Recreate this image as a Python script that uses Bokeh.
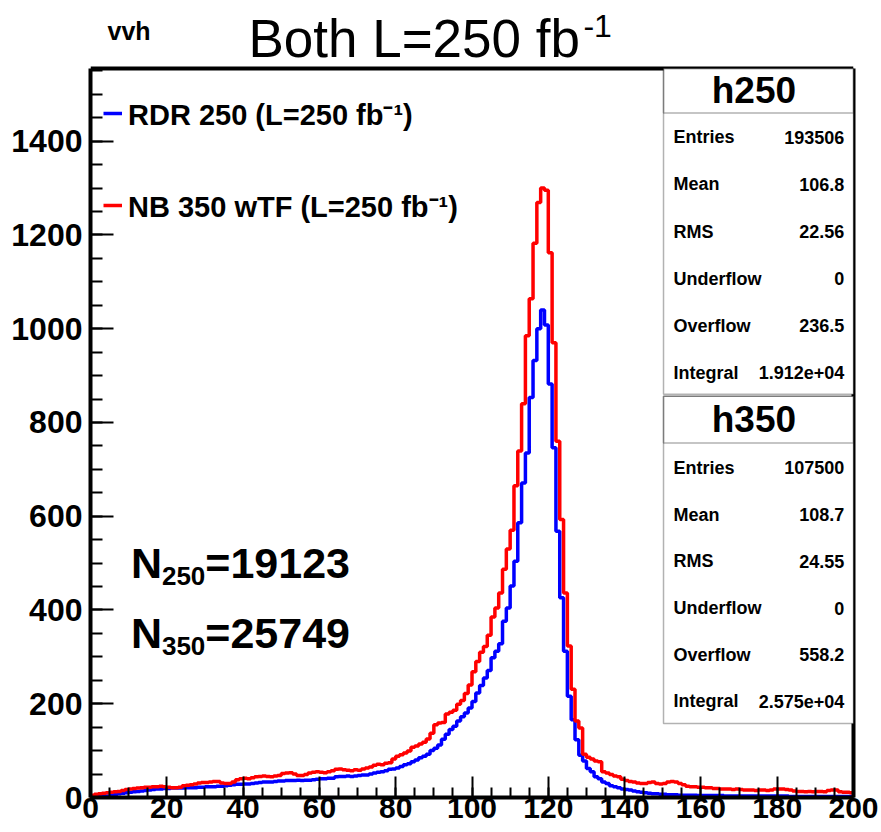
import numpy as np
from bokeh.plotting import figure
from bokeh.models import (Range1d, FixedTicker, Label, BoxAnnotation, Legend, LegendItem,
                          LinearAxis, Span)
from bokeh.embed import file_html
from bokeh.resources import INLINE

# ---------------- data ----------------
bin_width = 1.0
x_min, x_max = 0, 200
y_frame_top = 1555          # top of the histogram frame
y_view_top = 1700           # room above the frame for the title texts

# h250 : RDR 250 (blue), 200 bins of width 1 from 0 to 200
h250_counts = [
    1, 1, 2, 2, 3, 4, 6, 8, 9, 10,
    11, 12, 13, 14, 15, 16, 17, 18, 18, 19,
    19, 20, 20, 20, 20, 21, 21, 21, 22, 22,
    23, 23, 23, 24, 24, 25, 26, 27, 28, 28,
    29, 29, 30, 31, 32, 33, 33, 33, 34, 35,
    35, 36, 36, 36, 37, 36, 37, 37, 38, 39,
    40, 40, 41, 41, 44, 45, 45, 46, 45, 46,
    47, 48, 48, 50, 52, 54, 55, 57, 60, 61,
    63, 66, 70, 72, 76, 80, 85, 88, 92, 100,
    105, 112, 124, 135, 145, 152, 163, 172, 180, 191,
    205, 223, 239, 255, 271, 298, 312, 328, 376, 404,
    451, 504, 586, 671, 735, 853, 932, 1000, 1040, 1008,
    882, 746, 568, 426, 312, 216, 166, 123, 90, 78,
    62, 55, 44, 40, 33, 30, 25, 23, 21, 18,
    17, 16, 14, 12, 11, 10, 9, 8, 8, 7,
    7, 6, 6, 6, 5, 5, 5, 5, 5, 4,
    4, 4, 4, 4, 4, 4, 3, 3, 3, 3,
    3, 3, 3, 3, 3, 3, 3, 3, 3, 3,
    3, 3, 3, 2, 2, 2, 2, 2, 2, 2,
    2, 2, 2, 2, 2, 2, 2, 2, 2, 2,
]

# h350 : NB 350 wTF (red)
h350_counts = [
    5, 7, 8, 9, 10, 11, 12, 13, 15, 17,
    18, 19, 20, 21, 22, 22, 23, 23, 24, 23,
    22, 21, 21, 22, 25, 26, 27, 29, 31, 32,
    32, 33, 34, 34, 31, 30, 30, 33, 38, 40,
    41, 40, 42, 44, 45, 46, 45, 44, 46, 47,
    51, 52, 53, 50, 47, 47, 49, 52, 54, 55,
    54, 53, 55, 57, 60, 61, 59, 58, 57, 59,
    58, 61, 63, 65, 69, 71, 70, 73, 74, 82,
    88, 91, 95, 99, 107, 110, 114, 118, 125, 137,
    155, 159, 160, 178, 182, 186, 199, 207, 222, 240,
    268, 290, 310, 322, 346, 385, 404, 436, 487, 530,
    570, 665, 739, 840, 985, 1064, 1182, 1269, 1300, 1295,
    1162, 970, 760, 593, 436, 323, 231, 163, 148, 92,
    86, 82, 78, 76, 55, 52, 49, 46, 44, 39,
    36, 34, 33, 31, 30, 30, 32, 33, 30, 29,
    30, 33, 34, 33, 30, 27, 24, 23, 23, 22,
    22, 21, 21, 19, 19, 18, 18, 18, 17, 18,
    17, 16, 16, 16, 15, 16, 16, 15, 16, 18,
    18, 18, 17, 16, 14, 13, 13, 12, 13, 12,
    13, 13, 12, 15, 16, 16, 12, 11, 11, 10,
]

x_major_ticks = list(range(0, 201, 20))
x_minor_ticks = list(range(0, 201, 5))
y_major_ticks = list(range(0, 1401, 200))
y_minor_ticks = list(range(0, 1551, 50))

stat_names = ["Entries", "Mean", "RMS", "Underflow", "Overflow", "Integral"]
h250_stats = ["193506", "106.8", "22.56", "0", "236.5", "1.912e+04"]
h350_stats = ["107500", "108.7", "24.55", "0", "558.2", "2.575e+04"]

legend_labels = ["RDR 250 (L=250 fb\u207b\u00b9)", "NB 350 wTF (L=250 fb\u207b\u00b9)"]
n250_value = "19123"
n350_value = "25749"

FONT = "Liberation Sans"
INK = "black"

# ---------------- figure ----------------
p = figure(width=881, height=832, output_backend="svg", toolbar_location=None,
           title_location=None,
           x_range=Range1d(x_min, x_max), y_range=Range1d(0, y_view_top),
           min_border_left=90, min_border_right=28, min_border_top=0, min_border_bottom=35)
p.background_fill_color = "white"
p.border_fill_color = "white"
p.grid.visible = False
p.outline_line_alpha = 0

for ax in (p.xaxis[0], p.yaxis[0]):
    ax.axis_line_width = 4
    ax.axis_line_color = INK
    ax.major_tick_out = 0
    ax.minor_tick_out = 0
    ax.major_tick_line_width = 2
    ax.minor_tick_line_width = 2
    ax.major_tick_line_color = INK
    ax.minor_tick_line_color = INK
    ax.major_label_text_font = FONT
    ax.major_label_text_font_style = "bold"
    ax.major_label_text_color = INK

p.xaxis.major_label_text_font_size = "30px"
p.yaxis.major_label_text_font_size = "32px"
p.xaxis.ticker = FixedTicker(ticks=x_major_ticks, minor_ticks=x_minor_ticks)
p.yaxis.ticker = FixedTicker(ticks=y_major_ticks, minor_ticks=y_minor_ticks)
p.yaxis.bounds = (0, y_frame_top)
p.xaxis.major_tick_in = 21
p.xaxis.minor_tick_in = 10
p.yaxis.major_tick_in = 23
p.yaxis.minor_tick_in = 12
p.xaxis.major_label_standoff = 0
p.yaxis.major_label_standoff = 8

# right edge of the frame
right_axis = LinearAxis(ticker=FixedTicker(ticks=[]), bounds=(0, y_frame_top),
                        axis_line_width=4, axis_line_color=INK,
                        major_tick_line_color=None, minor_tick_line_color=None,
                        major_label_text_font_size="0px")
p.add_layout(right_axis, "right")
# top edge of the frame
p.add_layout(Span(location=y_frame_top, dimension="width", line_color=INK, line_width=4))

edges = x_min + np.arange(len(h250_counts) + 1) * bin_width
blue_y = list(h250_counts) + [h250_counts[-1]]
red_y = list(h350_counts) + [h350_counts[-1]]

r_blue = p.step(edges, blue_y, mode="after", line_color="#0000ff", line_width=3.5)
r_red = p.step(edges, red_y, mode="after", line_color="#ff0000", line_width=3.5)

legend = Legend(items=[LegendItem(label=legend_labels[0], renderers=[r_blue]),
                       LegendItem(label=legend_labels[1], renderers=[r_red])],
                location=(13, 560), margin=0, padding=0, spacing=28,
                glyph_width=19, glyph_height=64, label_height=64, label_standoff=6,
                border_line_alpha=0, background_fill_alpha=0,
                label_text_font=FONT, label_text_font_style="bold",
                label_text_font_size="29px", label_text_color=INK)
p.add_layout(legend)

# ---------------- stat boxes ----------------
box_left = 150.2
def stat_box(name, values, top, bottom, head_bottom, first_row, pitch):
    p.add_layout(BoxAnnotation(left=box_left, right=x_max, top=top, bottom=bottom,
                               fill_color="white", fill_alpha=1.0,
                               line_color=INK, line_width=1.5))
    p.add_layout(BoxAnnotation(left=box_left, right=x_max, top=top, bottom=head_bottom,
                               fill_alpha=0.0, line_color=INK, line_width=1.5))
    p.add_layout(Label(x=(box_left + x_max) / 2 - 1.2, y=(top + head_bottom) / 2, text=name,
                       text_align="center", text_baseline="middle", text_color=INK,
                       text_font=FONT, text_font_style="bold", text_font_size="37px"))
    for i, (nm, val) in enumerate(zip(stat_names, values)):
        yy = first_row - i * pitch
        p.add_layout(Label(x=152.8, y=yy, text=nm, text_align="left", text_baseline="middle",
                           text_color=INK, text_font=FONT, text_font_style="bold",
                           text_font_size="18px"))
        p.add_layout(Label(x=197.6, y=yy, text=val, text_align="right", text_baseline="middle",
                           text_color=INK, text_font=FONT, text_font_style="bold",
                           text_font_size="18px"))

stat_box("h250", h250_stats, top=y_frame_top, bottom=860, head_bottom=1460, first_row=1408, pitch=100.4)
stat_box("h350", h350_stats, top=856, bottom=158, head_bottom=756, first_row=703, pitch=99.6)

# ---------------- N labels ----------------
def n_label(sub, val, y_mid):
    p.add_layout(Label(x=10.6, y=y_mid, text="N", text_align="left", text_baseline="middle",
                       text_color=INK, text_font=FONT, text_font_style="bold", text_font_size="43px"))
    p.add_layout(Label(x=10.6, y=y_mid, x_offset=31, y_offset=-13, text=sub, text_align="left",
                       text_baseline="middle", text_color=INK, text_font=FONT,
                       text_font_style="bold", text_font_size="26px"))
    p.add_layout(Label(x=10.6, y=y_mid, x_offset=74.4, text="=" + val, text_align="left",
                       text_baseline="middle", text_color=INK, text_font=FONT,
                       text_font_style="bold", text_font_size="43px"))

n_label("250", n250_value, 501)
n_label("350", n350_value, 350)

# ---------------- title texts ----------------
p.add_layout(Label(x=4.46, y=1636, text="vvh", text_align="left", text_baseline="middle",
                   text_color=INK, text_font=FONT, text_font_style="bold", text_font_size="25px"))
p.add_layout(Label(x=41.4, y=1619, text="Both L=250 fb", text_align="left",
                   text_baseline="middle", text_color=INK, text_font=FONT,
                   text_font_size="53px"))
p.add_layout(Label(x=41.4, y=1619, x_offset=335, y_offset=12, text="-1", text_align="left",
                   text_baseline="middle", text_color=INK, text_font=FONT,
                   text_font_size="32px"))

open("out.html", "w").write(file_html(p, INLINE))
